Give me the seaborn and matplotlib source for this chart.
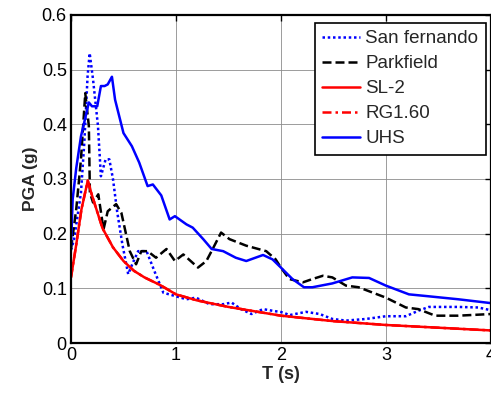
import numpy as np
import pandas as pd
import matplotlib
matplotlib.use("Agg")
import matplotlib.pyplot as plt
import seaborn as sns

# San fernando record
t_sf = [0.0, 0.03, 0.095, 0.127, 0.158, 0.178, 0.21, 0.257, 0.285, 0.33, 0.365, 0.40,
        0.44, 0.49, 0.545, 0.59, 0.64, 0.72, 0.80, 0.88, 0.99, 1.10, 1.19, 1.32, 1.45,
        1.53, 1.62, 1.72, 1.83, 1.92, 2.02, 2.08, 2.24, 2.37, 2.49, 2.62, 2.81, 3.0,
        3.19, 3.31, 3.41, 3.69, 3.88, 4.0]
pga_sf = [0.17, 0.19, 0.275, 0.367, 0.488, 0.53, 0.482, 0.397, 0.305, 0.336, 0.336, 0.30,
          0.24, 0.18, 0.126, 0.147, 0.168, 0.168, 0.129, 0.092, 0.086, 0.080, 0.083, 0.071, 0.071,
          0.074, 0.062, 0.053, 0.062, 0.059, 0.056, 0.051, 0.057, 0.053, 0.044, 0.041, 0.044, 0.049,
          0.049, 0.059, 0.066, 0.066, 0.065, 0.060]

# Parkfield record
t_pf = [0.0, 0.05, 0.095, 0.136, 0.17, 0.18, 0.21, 0.26, 0.31, 0.35, 0.43, 0.48, 0.56,
        0.62, 0.67, 0.73, 0.81, 0.91, 0.99, 1.07, 1.21, 1.29, 1.35, 1.43, 1.51, 1.67,
        1.86, 1.95, 2.0, 2.08, 2.21, 2.30, 2.40, 2.49, 2.62, 2.74, 3.0, 3.19, 3.31,
        3.47, 3.69, 4.0]
pga_pf = [0.172, 0.245, 0.336, 0.457, 0.397, 0.275, 0.257, 0.272, 0.208, 0.241, 0.254, 0.238, 0.168,
          0.144, 0.168, 0.168, 0.156, 0.172, 0.150, 0.162, 0.138, 0.150, 0.172, 0.202, 0.19, 0.178,
          0.168, 0.153, 0.138, 0.117, 0.111, 0.117, 0.123, 0.12, 0.105, 0.102, 0.083, 0.065, 0.062,
          0.050, 0.050, 0.053]

# SL-2 design spectrum (RG1.60 lies on top of it)
t_sl2 = [0.0, 0.05, 0.1, 0.16, 0.2, 0.3, 0.4, 0.5, 0.6, 0.7, 0.85, 1.0, 1.2, 1.5, 2.0,
         2.5, 3.0, 3.5, 4.0]
pga_sl2 = [0.12, 0.18, 0.245, 0.297, 0.27, 0.21, 0.175, 0.15, 0.132, 0.12, 0.106, 0.089,
           0.078, 0.066, 0.05, 0.04, 0.033, 0.028, 0.023]
t_rg = t_sl2
pga_rg = pga_sl2

# UHS
t_uhs = [0.0, 0.016, 0.05, 0.095, 0.14, 0.17, 0.2, 0.25, 0.285, 0.32, 0.35, 0.39, 0.42,
         0.50, 0.58, 0.65, 0.73, 0.78, 0.86, 0.94, 0.99, 1.10, 1.16, 1.26, 1.34, 1.45,
         1.57, 1.67, 1.83, 1.92, 2.0, 2.11, 2.22, 2.30, 2.49, 2.68, 2.84, 3.0, 3.22,
         3.38, 3.69, 4.0]
pga_uhs = [0.175, 0.263, 0.32, 0.378, 0.415, 0.44, 0.433, 0.433, 0.47, 0.47, 0.473, 0.487, 0.445,
           0.384, 0.36, 0.33, 0.287, 0.29, 0.27, 0.226, 0.232, 0.217, 0.211, 0.19, 0.172, 0.168,
           0.156, 0.150, 0.161, 0.153, 0.138, 0.117, 0.102, 0.102, 0.109, 0.12, 0.119, 0.105, 0.089,
           0.086, 0.080, 0.073]

x_ticks = [0, 1, 2, 3, 4]
x_tick_labels = ["0", "1", "2", "3", "4"]
y_ticks = [0, 0.1, 0.2, 0.3, 0.4, 0.5, 0.6]
y_tick_labels = ["0", "0.1", "0.2", "0.3", "0.4", "0.5", "0.6"]

sns.set_style("white")
plt.rcParams['font.family'] = ['Liberation Sans', 'DejaVu Sans']

fig = plt.figure(figsize=(4.91, 3.94), dpi=100)
ax = fig.add_axes([0.1446, 0.1294, 0.855, 0.8326])

series = [
    ("San fernando", t_sf, pga_sf, "blue", (0, (1, 1.1))),
    ("Parkfield", t_pf, pga_pf, "black", (0, (3.6, 1.6))),
    ("SL-2", t_sl2, pga_sl2, "red", "-"),
    ("RG1.60", t_rg, pga_rg, "red", (0, (3.6, 1.6, 1, 1.6))),
    ("UHS", t_uhs, pga_uhs, "blue", "-"),
]
for name, t, p, c, ls in series:
    df = pd.DataFrame({"T": t, "PGA": p})
    sns.lineplot(data=df, x="T", y="PGA", ax=ax, color=c, linestyle=ls,
                 linewidth=1.8, label=name)

ax.set_xlim(0, 4)
ax.set_ylim(0, 0.6)
ax.set_xticks(x_ticks)
ax.set_xticklabels(x_tick_labels)
ax.set_yticks(y_ticks)
ax.set_yticklabels(y_tick_labels)
ax.tick_params(direction="in", length=4, width=1, top=True, right=True,
               labelsize=13, pad=3, colors="black")
ax.grid(True, color="#8c8c8c", linewidth=0.6)
for s in ax.spines.values():
    s.set_linewidth(1.6)
    s.set_color("black")

ax.set_xlabel("T (s)", fontsize=13, fontweight="bold", labelpad=1)
ax.set_ylabel("PGA (g)", fontsize=12.5, fontweight="bold", labelpad=3)

leg = ax.legend(loc="upper right", bbox_to_anchor=(0.988, 0.976), fontsize=13.5,
                frameon=True, fancybox=False, framealpha=1, edgecolor="black",
                handlelength=2.0, handletextpad=0.3, labelspacing=0.42,
                borderpad=0.4, borderaxespad=0)
leg.get_frame().set_linewidth(1.2)

fig.savefig("out.png", dpi=100)
